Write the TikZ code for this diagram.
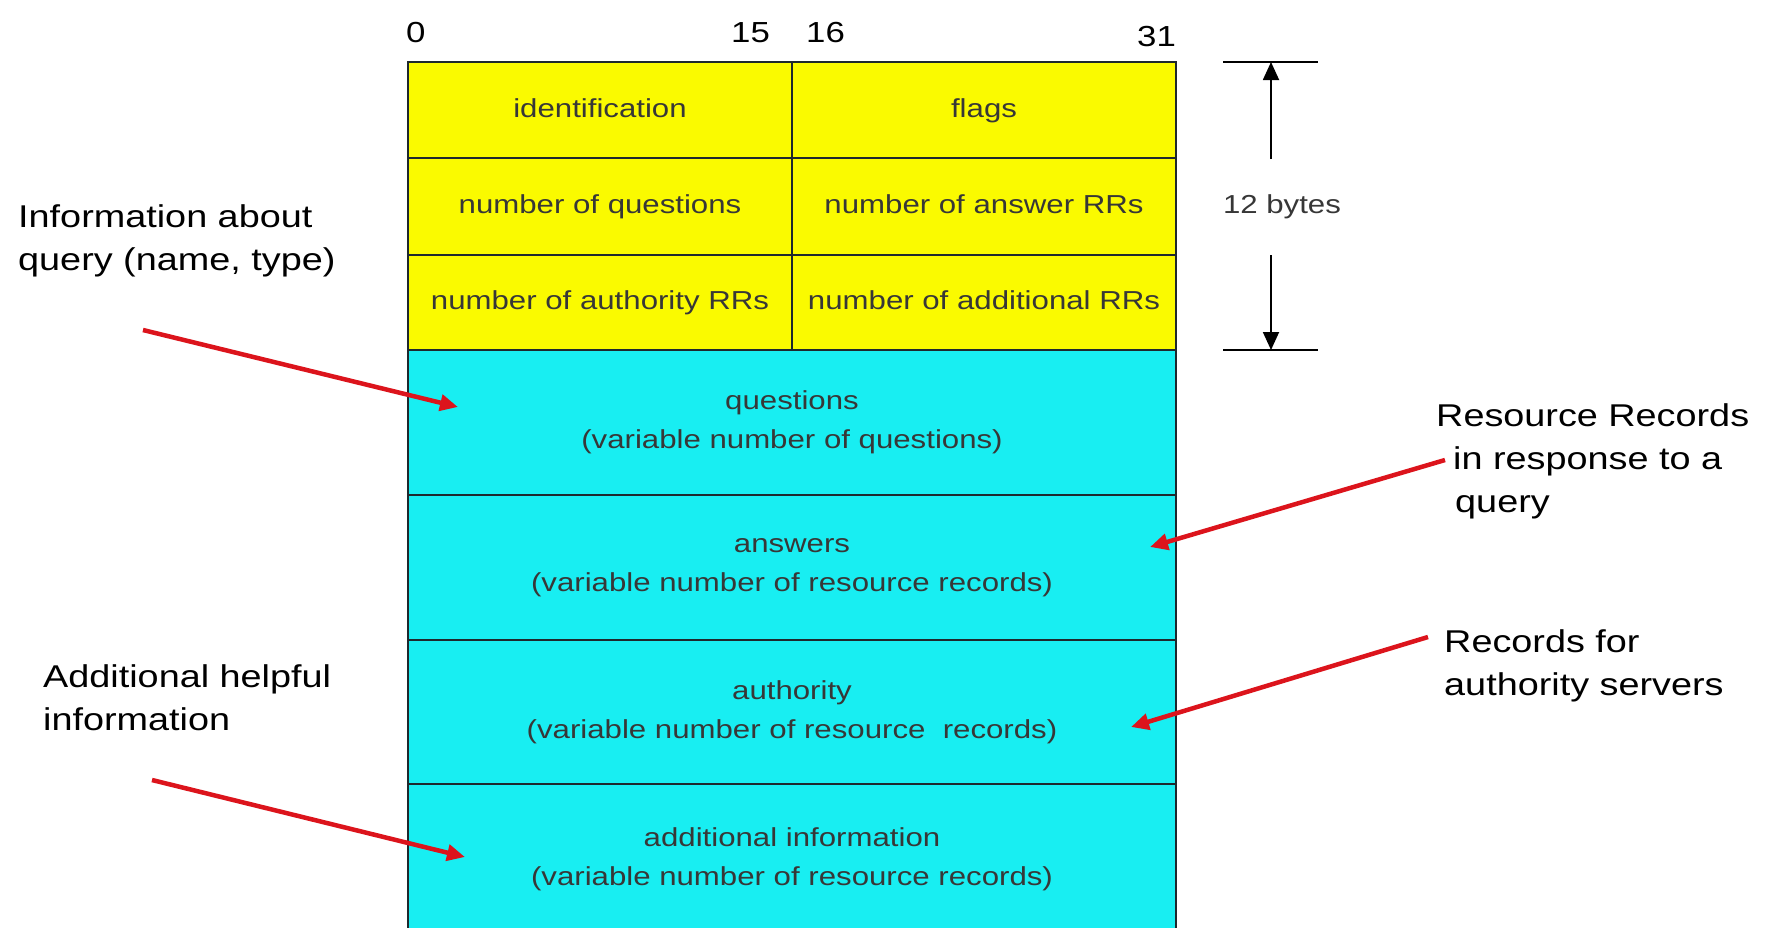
\documentclass[tikz,border=0pt]{standalone}
\usepackage{fontspec}
\setmainfont{Liberation Sans}[FakeStretch=1.2]
\usetikzlibrary{arrows.meta}
\definecolor{ryellow}{RGB}{250,250,0}
\definecolor{rcyan}{RGB}{24,238,242}
\definecolor{rred}{RGB}{220,20,28}
\definecolor{rtext}{RGB}{55,55,55}
\definecolor{rline}{RGB}{30,40,45}
\tikzset{
  cellbox/.style={draw=rline, line width=2pt, inner sep=0pt, text=rtext,
    font=\fontsize{26}{39}\selectfont, align=center},
  ycell/.style={cellbox, fill=ryellow, minimum width=384pt, text height=19pt, text depth=5pt},
  ccell/.style={cellbox, fill=rcyan, minimum width=768pt},
  bitnum/.style={font=\fontsize{29}{30}\selectfont, anchor=base west, inner sep=0pt},
  note/.style={font=\fontsize{31.5}{43}\selectfont, align=left, anchor=north west, inner sep=0pt},
  redarrow/.style={draw=rred, line width=4.5pt, -{Triangle[length=18pt,width=16pt]}},
  dimline/.style={line width=1.8pt},
  dimarrow/.style={line width=1.8pt, -{Triangle[length=18pt,width=16pt]}},
}
\begin{document}
\begin{tikzpicture}[x=1pt,y=-1pt]
\useasboundingbox[fill=white] (0,0) rectangle (1767,927);

% bit numbers
\node[bitnum] (b0) at (406,42) {0};
\node[bitnum] (b15) at (731,42) {15};
\node[bitnum] (b16) at (806,42) {16};
\node[bitnum] (b31) at (1137,46) {31};

% header cells
\node[ycell, minimum height=96pt] (ident) at (600,110) {identification};
\node[ycell, minimum height=96pt] (flags) at (984,110) {flags};
\node[ycell, minimum height=97pt] (nq) at (600,206.5) {number of questions};
\node[ycell, minimum height=97pt] (nans) at (984,206.5) {number of answer RRs};
\node[ycell, minimum height=95pt] (nauth) at (600,302.5) {number of authority RRs};
\node[ycell, minimum height=95pt] (nadd) at (984,302.5) {number of additional RRs};

% variable sections
\node[ccell, minimum height=145pt] (quest) at (792,422.5) {questions\\(variable number of questions)};
\node[ccell, minimum height=145pt] (answ) at (792,567.5) {answers\\(variable number of resource records)};
\node[ccell, minimum height=144pt] (auth) at (792,712) {authority\\(variable number of resource \ records)};
\node[ccell, minimum height=150pt] (addl) at (792,859) {additional information\\(variable number of resource records)};

% 12 bytes dimension
\node[font=\fontsize{26}{30}\selectfont, text=rtext] (bytes) at (1282,207) {12 bytes};
\coordinate (dtl) at (1223,62);
\coordinate (dtr) at (1318,62);
\coordinate (dbl) at (1223,350);
\coordinate (dbr) at (1318,350);
\coordinate (uas) at (1271,159);
\coordinate (uat) at (1271,62);
\coordinate (das) at (1271,255);
\coordinate (dat) at (1271,350);
\draw[dimline] (dtl) -- (dtr);
\draw[dimline] (dbl) -- (dbr);
\draw[dimarrow] (uas) -- (uat);
\draw[dimarrow] (das) -- (dat);

% side notes
\node[note] (qnote) at (18,204) {Information about\\query (name, type)};
\node[note] (anote) at (43,664) {Additional helpful\\information};
\node[note] (rnote) at (1436,403) {Resource Records\\\hspace*{17pt}in response to a\\\hspace*{19pt}query};
\node[note] (snote) at (1444,629) {Records for\\authority servers};

% red arrows
\coordinate (qas) at (143,330);
\coordinate (qat) at (458,407);
\coordinate (aas) at (152,780);
\coordinate (aat) at (465,857);
\coordinate (ras) at (1445,460);
\coordinate (rat) at (1150,547);
\coordinate (sas) at (1428,637);
\coordinate (sat) at (1131,727);
\draw[redarrow] (qas) -- (qat);
\draw[redarrow] (aas) -- (aat);
\draw[redarrow] (ras) -- (rat);
\draw[redarrow] (sas) -- (sat);
\end{tikzpicture}
\end{document}
